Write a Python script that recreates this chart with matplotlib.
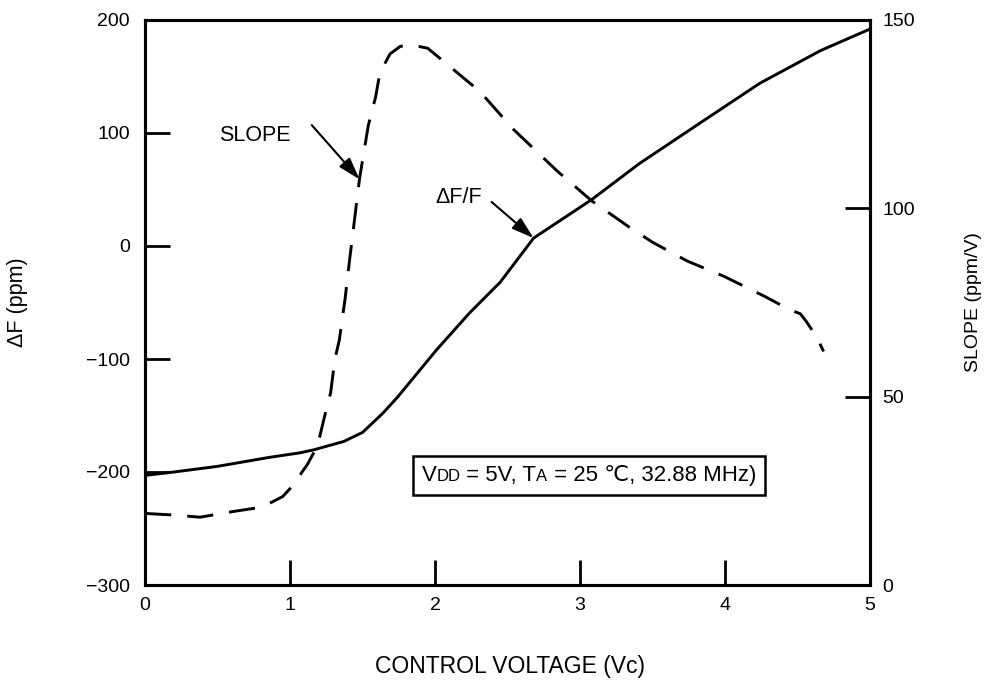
import matplotlib
matplotlib.use("Agg")
import matplotlib.pyplot as plt
from matplotlib.offsetbox import TextArea, HPacker, AnnotationBbox

plt.rcParams["font.family"] = ["Liberation Sans", "DejaVu Sans"]

# delta F / F curve (left axis, ppm)
vc_df = [0, 0.2, 0.5, 0.86, 1.07, 1.16, 1.37, 1.5, 1.64, 1.74, 2.01, 2.24,
         2.45, 2.68, 3.08, 3.41, 3.83, 4.24, 4.66, 5.0]
df_ppm = [-203, -200, -195, -187, -183, -180.5, -173, -165, -148, -134, -92,
          -59, -32, 7, 41, 73, 109, 144, 173, 192]

# slope curve (right axis, ppm/V)
vc_slope = [0, 0.19, 0.38, 0.59, 0.81, 0.95, 1.01, 1.12, 1.19, 1.24, 1.28,
            1.31, 1.34, 1.38, 1.41, 1.48, 1.54, 1.59, 1.62, 1.69, 1.76, 1.85,
            1.95, 2.06, 2.31, 2.54, 2.84, 3.08, 3.34, 3.5, 3.74, 3.99, 4.28,
            4.45, 4.52, 4.56, 4.63, 4.68]
slope = [19, 18.6, 18, 19.4, 20.7, 23.5, 26, 32, 37, 45, 51, 60, 65, 76, 86,
         108, 122, 129.5, 136, 141, 143, 143.3, 142.5, 139, 131, 121, 110,
         102, 95, 91, 86, 82, 76.5, 73, 72, 70, 66, 62]

x_ticks = [0, 1, 2, 3, 4, 5]
left_ticks = [-300, -200, -100, 0, 100, 200]
right_ticks = [0, 50, 100, 150]

fig = plt.figure(figsize=(9.87, 6.8), dpi=100)
ax = fig.add_axes([145 / 987, 95 / 680, 725 / 987, 565 / 680])
ax2 = ax.twinx()

ax.plot(vc_df, df_ppm, color="black", lw=2.1, solid_capstyle="butt")
ax2.plot(vc_slope, slope, color="black", lw=2.1, linestyle=(0, (9, 5.5)))

ax.set_xlim(0, 5)
ax.set_ylim(-300, 200)
ax2.set_ylim(0, 150)
ax.set_xticks(x_ticks)
ax.set_yticks(left_ticks)
ax2.set_yticks(right_ticks)

for a in (ax, ax2):
    for sp in a.spines.values():
        sp.set_linewidth(2.2)
ax.tick_params(axis="both", direction="in", length=18, width=2, labelsize=14)
ax.tick_params(axis="y", pad=11)
ax.tick_params(axis="x", pad=9)
ax2.tick_params(axis="y", direction="in", length=18, width=2, labelsize=14, pad=9)

ax.set_xlabel("CONTROL VOLTAGE (Vc)", fontsize=16.5)
ax.xaxis.set_label_coords(0.503, -0.124)
ax.set_ylabel("ΔF (ppm)", fontsize=15.5)
ax.yaxis.set_label_coords(-0.161, 0.5)
ax2.set_ylabel("SLOPE (ppm/V)", fontsize=14, rotation=90)
ax2.yaxis.set_label_coords(1.131, 0.5)

arrow = dict(arrowstyle="-|>,head_length=0.9,head_width=0.28", color="black",
             lw=1.5, shrinkA=0, shrinkB=0, mutation_scale=15)
ax.text(0.76, 98, "SLOPE", fontsize=15.5, ha="center", va="center")
ax.annotate("", xy=(1.48, 59), xytext=(1.15, 107), arrowprops=arrow)
ax.text(2.16, 43, "ΔF/F", fontsize=15.5, ha="center", va="center")
ax.annotate("", xy=(2.68, 7), xytext=(2.39, 39), arrowprops=arrow)

big = dict(size=16, color="black")
small = dict(size=12, color="black")
parts = [TextArea("V", textprops=big), TextArea("DD", textprops=small),
         TextArea(" = 5V, T", textprops=big), TextArea("A", textprops=small),
         TextArea(" = 25 \u2103, 32.88 MHz)", textprops=big)]
box = HPacker(children=parts, align="baseline", pad=0, sep=0)
ab = AnnotationBbox(box, (3.06, -203), xycoords="data", frameon=True,
                    box_alignment=(0.5, 0.5), pad=0.4, fontsize=16)
ab.patch.set_linewidth(1.8)
ab.patch.set_edgecolor("black")
ax.add_artist(ab)

fig.savefig("out.png", dpi=100)
